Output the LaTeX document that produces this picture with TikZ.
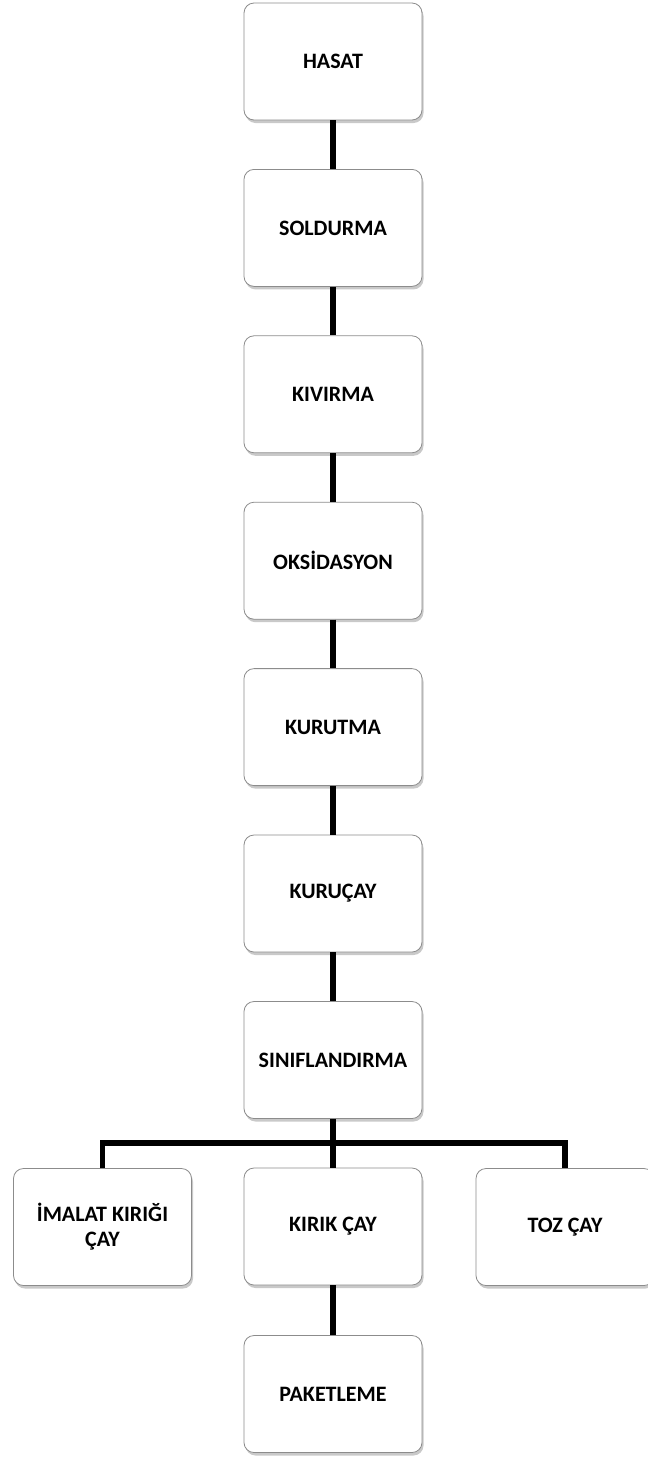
\documentclass[tikz,border=0pt]{standalone}
\usepackage{fontspec}
\setmainfont{Carlito}
\usetikzlibrary{shadows}
\begin{document}
\begin{tikzpicture}[x=1pt,y=-1pt,
  stepbox/.style={draw=black!45, line width=0.8pt, fill=white, rounded corners=10pt,
    minimum width=178pt, minimum height=117pt, inner sep=2pt,
    align=center, font=\bfseries\fontsize{22}{25}\selectfont,
    drop shadow={shadow xshift=1.5pt, shadow yshift=-3pt, opacity=0.35, fill=black!60}},
  link/.style={line width=5.5pt, draw=black, line join=miter}]
\useasboundingbox (0,0) rectangle (648,1457);
\fill[white] (0,0) rectangle (648,1457);
\node[stepbox] (hasat) at (333,61.5) {HASAT};
\node[stepbox] (sold) at (333,227.9) {SOLDURMA};
\node[stepbox] (kiv) at (333,394.3) {KIVIRMA};
\node[stepbox] (oks) at (333,560.7) {OKSİDASYON};
\node[stepbox] (kur) at (333,727.1) {KURUTMA};
\node[stepbox] (kc) at (333,893.5) {KURUÇAY};
\node[stepbox] (sin) at (333,1060) {SINIFLANDIRMA};
\node[stepbox] (imal) at (102.5,1227) {İMALAT KIRIĞI\\ÇAY};
\node[stepbox] (kirik) at (333,1226.5) {KIRIK ÇAY};
\node[stepbox] (toz) at (565,1227) {TOZ ÇAY};
\node[stepbox] (pak) at (333,1394) {PAKETLEME};
\coordinate (bar) at (333,1143);
\draw[link] (hasat.south) -- (sold.north);
\draw[link] (sold.south) -- (kiv.north);
\draw[link] (kiv.south) -- (oks.north);
\draw[link] (oks.south) -- (kur.north);
\draw[link] (kur.south) -- (kc.north);
\draw[link] (kc.south) -- (sin.north);
\draw[link] (sin.south) -- (kirik.north);
\draw[link] (imal.north) |- (bar) -| (toz.north);
\draw[link] (kirik.south) -- (pak.north);
\end{tikzpicture}
\end{document}
